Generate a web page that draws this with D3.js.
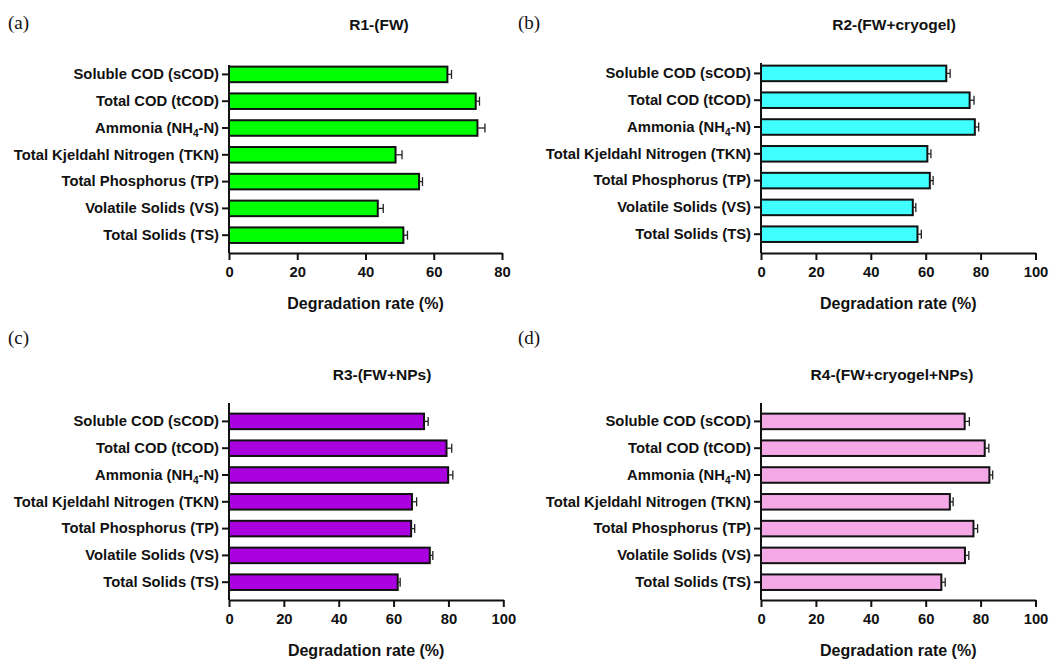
<!DOCTYPE html>
<html>
<head>
<meta charset="utf-8">
<script src="https://cdn.jsdelivr.net/npm/d3@7/dist/d3.min.js"></script>
<style>
  html, body { margin: 0; padding: 0; background: #fff; }
  svg { display: block; }
</style>
</head>
<body>
<svg id="chart" width="1051" height="660"></svg>
<script>
// ---------------- DATA ----------------
const categories = [
  "Soluble COD (sCOD)",
  "Total COD (tCOD)",
  "Ammonia (NH4-N)",
  "Total Kjeldahl Nitrogen (TKN)",
  "Total Phosphorus (TP)",
  "Volatile Solids (VS)",
  "Total Solids (TS)"
];
const panelLetters = ["(a)", "(b)", "(c)", "(d)"];
const panelTitles = ["R1-(FW)", "R2-(FW+cryogel)", "R3-(FW+NPs)", "R4-(FW+cryogel+NPs)"];
const axisTitle = "Degradation rate (%)";

const r1Values = [64.0, 72.3, 72.8, 48.8, 55.7, 43.6, 51.1];
const r1Errors = [1.2, 1.1, 2.2, 1.9, 1.0, 1.6, 1.2];
const r2Values = [67.5, 76.0, 77.9, 60.6, 61.5, 55.3, 57.0];
const r2Errors = [1.4, 1.6, 1.4, 1.3, 1.2, 1.1, 1.4];
const r3Values = [71.1, 79.3, 79.9, 66.7, 66.4, 73.2, 61.5];
const r3Errors = [1.5, 1.9, 1.7, 1.7, 1.3, 1.1, 0.9];
const r4Values = [74.2, 81.5, 83.2, 68.8, 77.4, 74.3, 65.7];
const r4Errors = [1.7, 1.5, 1.2, 1.2, 1.5, 1.4, 1.4];

const xTicksA = [0, 20, 40, 60, 80];
const xTicksOther = [0, 20, 40, 60, 80, 100];

const panelColors = ["#00ff00", "#40ffff", "#aa00e0", "#f5a8e6"];

// ---------------- LAYOUT ----------------
const panels = [
  { values: r1Values, errors: r1Errors, ticks: xTicksA,    x0: 229, x1: 502,    yTop: 65,  bandTop: 61,  axisY: 253, titleX: 379, titleY: 25,  letterX: 8,   letterY: 22 },
  { values: r2Values, errors: r2Errors, ticks: xTicksOther, x0: 761, x1: 1035.5, yTop: 63,  bandTop: 60,  axisY: 253, titleX: 894, titleY: 25,  letterX: 518, letterY: 22 },
  { values: r3Values, errors: r3Errors, ticks: xTicksOther, x0: 229, x1: 503.3,  yTop: 403, bandTop: 408, axisY: 600, titleX: 382, titleY: 375, letterX: 8,   letterY: 337 },
  { values: r4Values, errors: r4Errors, ticks: xTicksOther, x0: 761, x1: 1035.5, yTop: 403, bandTop: 408, axisY: 600, titleX: 892, titleY: 375, letterX: 518, letterY: 337 }
];
const step = 26.8;
const sans = "'Liberation Sans', Arial, Helvetica, sans-serif";
const serif = "'Liberation Serif', 'Times New Roman', serif";

const svg = d3.select("#chart");

function labelText(sel, d) {
  sel.text(null);
  if (d.indexOf("NH4") >= 0) {
    const parts = d.split("NH4");
    sel.append("tspan").text(parts[0] + "NH");
    sel.append("tspan").attr("font-size", "10px").attr("dy", "4").text("4");
    sel.append("tspan").attr("dy", "-4").text(parts[1]);
  } else {
    sel.text(d);
  }
}

panels.forEach((p, i) => {
  const g = svg.append("g");
  const xMax = d3.max(p.ticks);
  const x = d3.scaleLinear().domain([0, xMax]).range([p.x0, p.x1]);
  const y = d3.scaleBand().domain(categories)
    .range([p.bandTop, p.bandTop + step * categories.length])
    .paddingInner(0.42).paddingOuter(0.21);

  // letter
  g.append("text").attr("x", p.letterX).attr("y", p.letterY)
    .attr("dy", "0.35em")
    .attr("font-family", serif).attr("font-size", "19px").attr("fill", "#111")
    .text(panelLetters[i]);

  // title
  g.append("text").attr("x", p.titleX).attr("y", p.titleY)
    .attr("dy", "0.35em").attr("text-anchor", "middle")
    .attr("font-family", sans).attr("font-weight", "bold").attr("font-size", "15.5px")
    .attr("fill", "#111")
    .text(panelTitles[i]);

  // bars
  g.selectAll("rect.bar").data(p.values).enter().append("rect")
    .attr("class", "bar")
    .attr("x", x(0))
    .attr("y", (d, j) => y(categories[j]))
    .attr("width", d => x(d) - x(0))
    .attr("height", y.bandwidth())
    .attr("fill", panelColors[i])
    .attr("stroke", "#111").attr("stroke-width", 2);

  // error bars (positive side)
  const eg = g.append("g").attr("stroke", "#222").attr("stroke-width", 1.3);
  p.values.forEach((v, j) => {
    const cy = y(categories[j]) + y.bandwidth() / 2;
    const xe = x(v + p.errors[j]);
    eg.append("line").attr("x1", x(v)).attr("x2", xe).attr("y1", cy).attr("y2", cy);
    eg.append("line").attr("x1", xe).attr("x2", xe).attr("y1", cy - 4.5).attr("y2", cy + 4.5);
  });

  // y axis
  const yAxis = d3.axisLeft(y).tickSize(7).tickPadding(3).tickSizeOuter(0);
  const yg = g.append("g").attr("transform", `translate(${p.x0},0)`).call(yAxis);
  yg.select(".domain").remove();
  yg.selectAll(".tick line").attr("stroke", "#111").attr("stroke-width", 2);
  yg.selectAll(".tick text")
    .attr("font-family", sans).attr("font-weight", "bold").attr("font-size", "14.8px")
    .attr("fill", "#111")
    .each(function (d) { labelText(d3.select(this), d); });
  g.append("line").attr("x1", p.x0).attr("x2", p.x0)
    .attr("y1", p.yTop).attr("y2", p.axisY)
    .attr("stroke", "#111").attr("stroke-width", 2);

  // x axis
  const xAxis = d3.axisBottom(x).tickValues(p.ticks).tickSize(7).tickPadding(6).tickSizeOuter(0);
  const xg = g.append("g").attr("transform", `translate(0,${p.axisY})`).call(xAxis);
  xg.select(".domain").attr("stroke", "#111").attr("stroke-width", 2);
  xg.selectAll(".tick line").attr("stroke", "#111").attr("stroke-width", 2);
  xg.selectAll(".tick text")
    .attr("font-family", sans).attr("font-weight", "bold").attr("font-size", "14.8px")
    .attr("fill", "#111");

  // axis title
  g.append("text").attr("x", (p.x0 + p.x1) / 2).attr("y", p.axisY + 50)
    .attr("dy", "0.35em").attr("text-anchor", "middle")
    .attr("font-family", sans).attr("font-weight", "bold").attr("font-size", "16px")
    .attr("fill", "#111")
    .text(axisTitle);
});
</script>
</body>
</html>
